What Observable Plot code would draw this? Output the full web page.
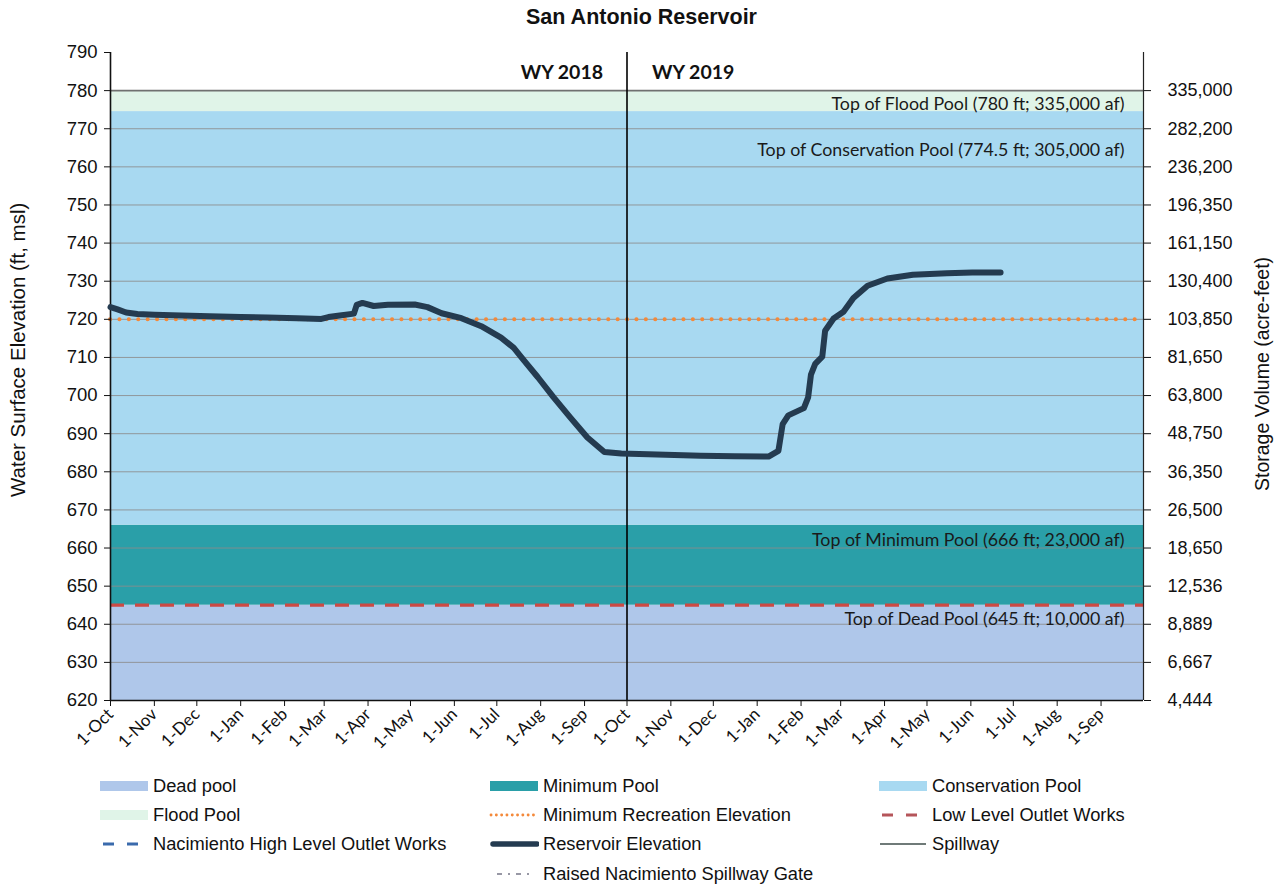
<!DOCTYPE html>
<html>
<head>
<meta charset="utf-8">
<script src="https://cdn.jsdelivr.net/npm/d3@7"></script>
<script src="https://cdn.jsdelivr.net/npm/@observablehq/plot@0.6"></script>
<style>
  html, body { margin: 0; padding: 0; background: #fff; }
  #wrap { position: relative; width: 1283px; height: 886px; overflow: hidden; background: #fff; }
  #chart { position: absolute; left: 0; top: 0; }
  .title { position: absolute; left: 0; width: 1283px; top: 5px; text-align: center;
           font: bold 21.5px "Liberation Sans", Arial, sans-serif; color: #111; }
  .ytitle { position: absolute; font-family: "Liberation Sans", Arial, sans-serif; color: #111;
            white-space: nowrap; transform-origin: 0 0; line-height: 1; }
  .leg { position: absolute; display: flex; align-items: center; height: 22px;
         font: 18.3px "Liberation Sans", Arial, sans-serif; color: #111; white-space: nowrap; }
  .leg svg { margin-right: 4px; }
  [aria-label="x-axis tick label"] text { font-family: Lato, "Open Sans", sans-serif; }
</style>
</head>
<body>
<div id="wrap">
  <div id="chart"></div>
</div>
<script>
// ---------- data ----------
const resDates = [
  "2017-10-01","2017-10-06","2017-10-12","2017-10-20","2017-11-01","2017-11-20","2017-12-10",
  "2018-01-01","2018-01-20","2018-02-10","2018-02-27","2018-03-04","2018-03-12","2018-03-22",
  "2018-03-24","2018-03-28","2018-04-05","2018-04-15","2018-05-04","2018-05-13","2018-05-23",
  "2018-06-06","2018-06-20","2018-07-04","2018-07-13","2018-07-20","2018-07-30","2018-08-10",
  "2018-08-22","2018-09-03","2018-09-15","2018-09-27","2018-10-16","2018-11-22","2018-12-16",
  "2019-01-09","2019-01-16","2019-01-19","2019-01-23","2019-02-03","2019-02-06","2019-02-08",
  "2019-02-11","2019-02-16","2019-02-18","2019-02-24","2019-03-03","2019-03-10","2019-03-20",
  "2019-04-03","2019-04-21","2019-05-15","2019-06-02","2019-06-22"
];
const resElev = [
  723.2, 722.6, 721.8, 721.4, 721.2, 721.0, 720.8,
  720.6, 720.5, 720.3, 720.1, 720.6, 721.0, 721.5,
  723.8, 724.3, 723.5, 723.8, 723.9, 723.2, 721.6,
  720.3, 718.2, 715.2, 712.5, 709.3, 704.8, 699.6,
  694.2, 689.0, 685.2, 684.8, 684.6, 684.2, 684.1,
  684.0, 685.5, 692.5, 694.8, 696.7, 699.5, 705.5,
  708.3, 710.2, 717.0, 720.2, 722.0, 725.6, 728.8,
  730.7, 731.7, 732.1, 732.3, 732.3
];

const poolNames  = ["Dead pool", "Minimum Pool", "Conservation Pool", "Flood Pool"];
const poolBottom = [620, 645, 666, 774.5];
const poolTop    = [645, 666, 774.5, 780];
const poolColors = ["#afc7ea", "#2a9fa8", "#a8d9f1", "#e0f4e8"];

const poolLabelText = [
  "Top of Flood Pool (780 ft; 335,000 af)",
  "Top of Conservation Pool (774.5 ft; 305,000 af)",
  "Top of Minimum Pool (666 ft; 23,000 af)",
  "Top of Dead Pool (645 ft; 10,000 af)"
];
const poolLabelElev = [776.4, 764.4, 662.0, 641.2];

const minRecreationElev = 720;
const lowLevelOutletElev = 645;
const spillwayElev = 780;

const leftTicks = [620,630,640,650,660,670,680,690,700,710,720,730,740,750,760,770,780,790];
const rightTicks = [620,630,640,650,660,670,680,690,700,710,720,730,740,750,760,770,780];
const storageLabels = ["4,444","6,667","8,889","12,536","18,650","26,500","36,350","48,750",
  "63,800","81,650","103,850","130,400","161,150","196,350","236,200","282,200","335,000"];
const gridElev = [630,640,650,660,670,680,690,700,710,720,730,740,750,760,770];

const xTickLabels = ["1-Oct","1-Nov","1-Dec","1-Jan","1-Feb","1-Mar","1-Apr","1-May","1-Jun","1-Jul","1-Aug","1-Sep",
                     "1-Oct","1-Nov","1-Dec","1-Jan","1-Feb","1-Mar","1-Apr","1-May","1-Jun","1-Jul","1-Aug","1-Sep"];
const wyLabels = ["WY 2018", "WY 2019"];

const legendNames = ["Dead pool","Minimum Pool","Conservation Pool",
  "Flood Pool","Minimum Recreation Elevation","Low Level Outlet Works",
  "Nacimiento High Level Outlet Works","Reservoir Elevation","Spillway",
  "Raised Nacimiento Spillway Gate"];

// ---------- build ----------
const parse = d3.utcParse("%Y-%m-%d");
const xStart = parse("2017-10-01"), xEnd = parse("2019-10-01"), wyBoundary = parse("2018-10-01");
const series = resDates.map((d, i) => ({date: parse(d), elev: resElev[i]}));
const pools = poolNames.map((n, i) => ({name: n, y1: poolBottom[i], y2: poolTop[i], color: poolColors[i]}));
const poolLabels = poolLabelText.map((t, i) => ({text: t, y: poolLabelElev[i]}));
const monthTicks = d3.utcMonth.range(xStart, xEnd);

const labelFont = "Lato, 'Open Sans', sans-serif";

const chart = Plot.plot({
  width: 1283,
  height: 886,
  marginLeft: 110,
  marginRight: 140,
  marginTop: 52,
  marginBottom: 186,
  style: {background: "transparent", fontFamily: "'Liberation Sans', Arial, sans-serif", color: "#111"},
  x: {type: "utc", domain: [xStart, xEnd]},
  y: {domain: [620, 790]},
  marks: [
    Plot.rect(pools, {x1: () => xStart, x2: () => xEnd, y1: "y1", y2: "y2", fill: "color"}),
    Plot.ruleY(gridElev, {stroke: "#8c8c8c", strokeWidth: 1, strokeOpacity: 0.85}),
    Plot.ruleY([spillwayElev], {stroke: "#707070", strokeWidth: 1.8}),
    Plot.ruleY([minRecreationElev], {stroke: "#f4893a", strokeWidth: 4, strokeDasharray: "0.1 9.3", strokeLinecap: "round"}),
    Plot.ruleY([lowLevelOutletElev], {stroke: "#cc4a44", strokeWidth: 3.2, strokeDasharray: "14 11"}),
    Plot.ruleX([wyBoundary], {stroke: "#000", strokeWidth: 1.6}),
    Plot.ruleX([xStart], {stroke: "#111", strokeWidth: 1.6}),
    Plot.ruleX([xEnd], {stroke: "#222", strokeWidth: 1.2}),
    Plot.ruleY([620], {stroke: "#111", strokeWidth: 1.6}),
    Plot.line(series, {x: "date", y: "elev", stroke: "#243b50", strokeWidth: 6, strokeLinejoin: "round", strokeLinecap: "round"}),
    Plot.text(poolLabels, {x: () => xEnd, y: "y", text: "text", textAnchor: "end", dx: -19, fontSize: 17.8, fontFamily: labelFont, fill: "#1a1a1a"}),
    Plot.text([wyLabels[0]], {x: () => wyBoundary, y: () => 784.6, text: d => d, textAnchor: "end", dx: -24, fontSize: 19.5, fontWeight: "bold", fontFamily: labelFont, fill: "#111"}),
    Plot.text([wyLabels[1]], {x: () => wyBoundary, y: () => 784.6, text: d => d, textAnchor: "start", dx: 25, fontSize: 19.5, fontWeight: "bold", fontFamily: labelFont, fill: "#111"}),
    Plot.axisY({anchor: "left", ticks: leftTicks, tickSize: 6, tickPadding: 7, fontSize: 18.5, label: null, tickFormat: d => d}),
    Plot.axisY({anchor: "right", ticks: rightTicks, tickSize: 7, tickPadding: 17, fontSize: 18, label: null,
      textAnchor: "start", tickFormat: d => storageLabels[rightTicks.indexOf(d)]}),
    Plot.axisX({ticks: monthTicks, tickSize: 6, tickPadding: 5, tickRotate: -45, fontSize: 17, label: null,
      tickFormat: (d) => xTickLabels[monthTicks.findIndex(t => +t === +d)]})
  ]
});
document.getElementById("chart").appendChild(chart);

const wrap = document.getElementById("wrap");
const title = document.createElement("div");
title.className = "title";
title.textContent = "San Antonio Reservoir";
wrap.appendChild(title);

function addRot(text, size, cx, cy) {
  const el = document.createElement("div");
  el.className = "ytitle";
  el.style.fontSize = size + "px";
  el.textContent = text;
  wrap.appendChild(el);
  const w = el.offsetWidth, h = el.offsetHeight;
  el.style.left = (cx - h / 2) + "px";
  el.style.top = (cy + w / 2) + "px";
  el.style.transform = "rotate(-90deg)";
}
addRot("Water Surface Elevation (ft, msl)", 20.5, 18, 350);
addRot("Storage Volume (acre-feet)", 19.5, 1263, 374);

// ---------- legend ----------
function swatch(kind) {
  const s = d3.create("svg").attr("width", 50).attr("height", 14);
  const g = s.append("g");
  if (kind.fill) {
    g.append("rect").attr("x", 1).attr("y", 2).attr("width", 48).attr("height", 10).attr("fill", kind.fill);
  } else {
    g.append("line").attr("x1", kind.x1 ?? 2).attr("x2", kind.x2 ?? 48).attr("y1", 7).attr("y2", 7)
      .attr("stroke", kind.stroke).attr("stroke-width", kind.w)
      .attr("stroke-dasharray", kind.dash || null).attr("stroke-linecap", kind.cap || "butt");
  }
  return s.node();
}
const legendKinds = [
  {fill: poolColors[0]}, {fill: poolColors[1]}, {fill: poolColors[2]},
  {fill: poolColors[3]}, {stroke: "#f4893a", w: 2.8, dash: "0.1 5.2", cap: "round"}, {stroke: "#b5555a", w: 3.2, dash: "11 13", x1: 4, x2: 44},
  {stroke: "#3a6aac", w: 3.2, dash: "11 13", x1: 4, x2: 44}, {stroke: "#243b50", w: 5.5, cap: "round", x1: 4}, {stroke: "#6f7a78", w: 2.2},
  {stroke: "#778", w: 1.6, dash: "5 6 2 6", x1: 8, x2: 44}
];
const colX = [99, 489, 878];
const rowY = [775, 804, 833, 863];
legendNames.forEach((name, i) => {
  const col = i < 9 ? i % 3 : 1;
  const row = i < 9 ? Math.floor(i / 3) : 3;
  const d = document.createElement("div");
  d.className = "leg";
  d.style.left = colX[col] + "px";
  d.style.top = rowY[row] + "px";
  d.appendChild(swatch(legendKinds[i]));
  const t = document.createElement("span");
  t.textContent = name;
  d.appendChild(t);
  wrap.appendChild(d);
});
</script>
</body>
</html>
